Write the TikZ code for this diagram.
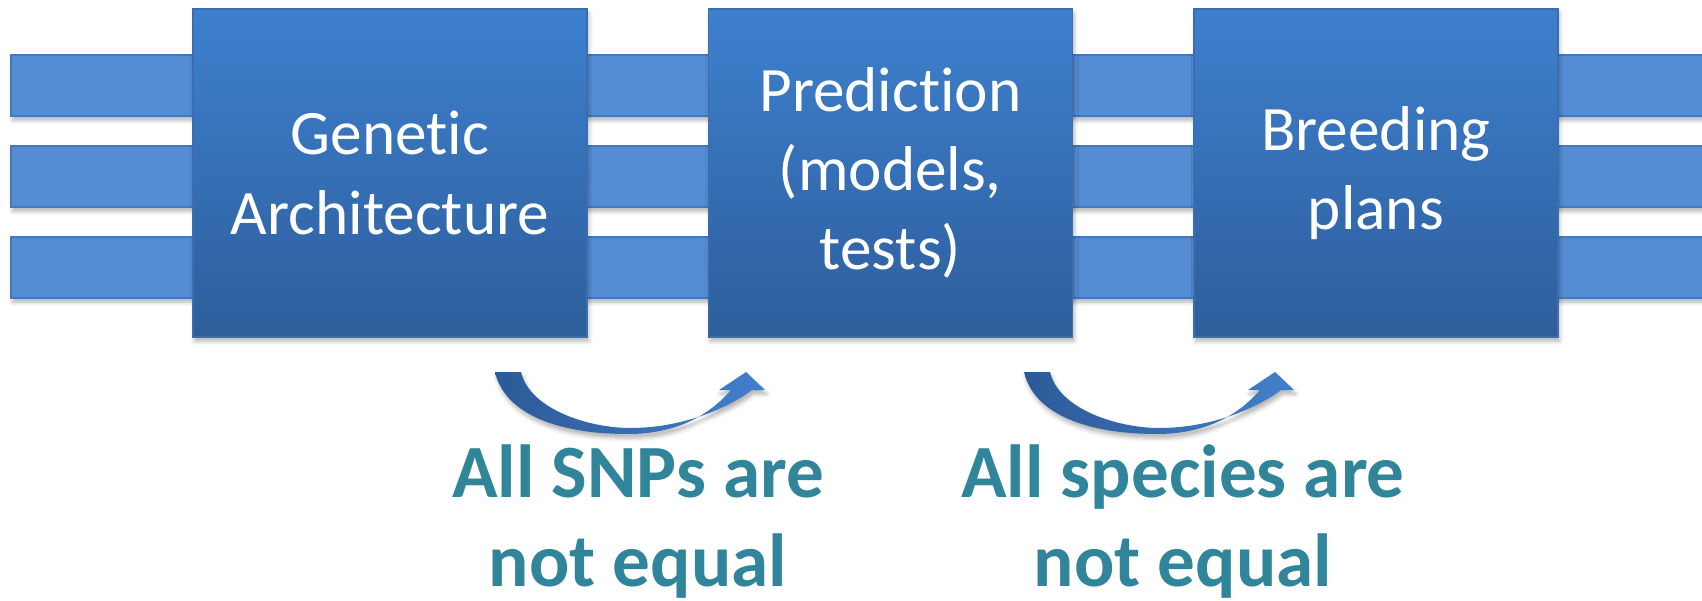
\documentclass[tikz,border=0pt]{standalone}
\usepackage{fontspec}
\setmainfont{Carlito}[Ligatures=NoCommon]
\usetikzlibrary{positioning, shadows.blur}
\definecolor{boxtop}{RGB}{62,128,206}
\definecolor{boxbottom}{RGB}{45,94,156}
\definecolor{boxedge}{RGB}{60,110,175}
\definecolor{barfill}{RGB}{84,141,212}
\definecolor{baredge}{RGB}{68,120,188}
\definecolor{arrowdark}{RGB}{44,90,152}
\definecolor{arrowlight}{RGB}{66,128,204}
\definecolor{notetext}{RGB}{49,133,155}

\begin{document}
\begin{tikzpicture}
    [
        x=0.1mm, y=-0.1mm,
        softshadow/.style={blur shadow={shadow xshift=0.5pt, shadow yshift=-1.2pt, shadow blur radius=1.2pt, shadow opacity=30}},
        stage/.style={draw=boxedge, line width=0.4pt, top color=boxtop, bottom color=boxbottom, softshadow, minimum height=32.8mm, inner sep=0pt, text=white, align=center, font=\fontsize{18}{22.5}\selectfont},
        bar/.style={draw=baredge, line width=0.4pt, fill=barfill, softshadow},
        note/.style={text=notetext, align=center, font=\bfseries\fontsize{21.4}{25.3}\selectfont}
    ]
    % curved arrow, drawn from the top left corner of its tail
    \tikzset{turn/.pic={
        \path[left color=arrowdark, right color=arrowlight, softshadow]
            (0,0) -- (26,0) .. controls (35,38) and (95,56) .. (135,56)
            .. controls (185,56) and (230,38) .. (257,18) -- (270,18) -- (251,0)
            -- (224,18) -- (236,18) .. controls (210,48) and (175,62) .. (133,62)
            .. controls (65,62) and (10,43) .. (0,0) -- cycle;
    }}

    \useasboundingbox (0,0) rectangle (1702,600);

    % the three strands behind the stages
    \foreach \bartop in {55,146,237}
        \path[bar] (11,\bartop) rectangle (1720,\bartop+61);

    \node[stage, minimum width=39.4mm] (genarch) at (390,173) {Genetic\\Architecture};
    \node[stage, minimum width=36.4mm, right=12mm of genarch] (predict) {Prediction\\(models,\\tests)};
    \node[stage, minimum width=36.4mm, right=12mm of predict] (breed) {Breeding\\plans};

    \pic at (495,372) {turn};
    \pic at (1024,372) {turn};

    % base sits on the last line
    \node[note, anchor=base] (snps) at (638,586) {All SNPs are\\not equal};
    \node[note, anchor=base] (species) at (1183,586) {All species are\\not equal};
\end{tikzpicture}
\end{document}
